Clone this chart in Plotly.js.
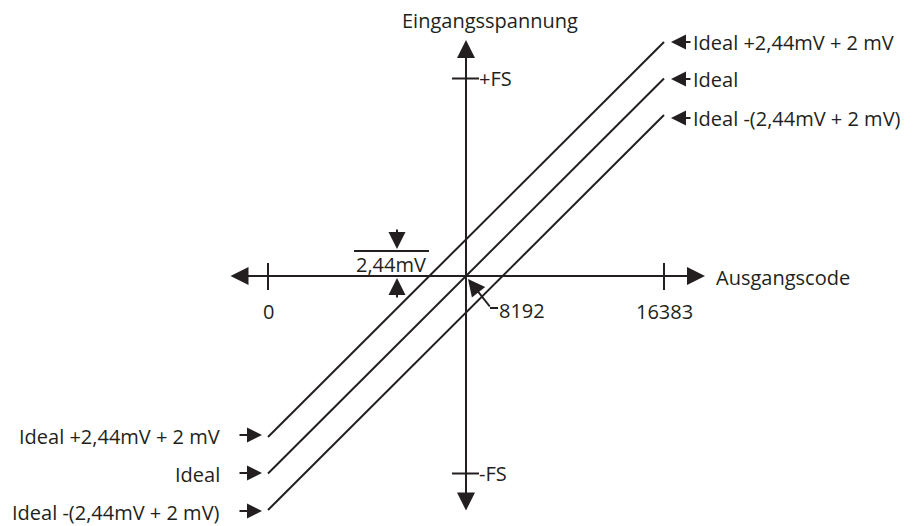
<!DOCTYPE html>
<html>
<head>
<meta charset="utf-8">
<script src="https://cdn.plot.ly/plotly-3.0.1.min.js"></script>
<style>html,body{margin:0;padding:0;background:#fff;}#chart{width:917px;height:526px;}</style>
</head>
<body>
<div id="chart"></div>
<script>
// ---- data ----
const codes = [0, 16383];                 // Ausgangscode endpoints
const idealFS = [-1, 1];                  // Ideal transfer line (in FS units)
const upperFS = [-0.815, 1.185];          // Ideal +2,44mV + 2 mV
const lowerFS = [-1.185, 0.815];          // Ideal -(2,44mV + 2 mV)
const seriesNames = ['Ideal +2,44mV + 2 mV', 'Ideal', 'Ideal -(2,44mV + 2 mV)'];
const xTickVals = [0, 16383];
const xTickText = ['0', '16383'];
const midCode = 8192;
const midText = '8192';
const yTickVals = [1, -1];
const yTickText = ['+FS', '-FS'];
const xTitle = 'Ausgangscode';
const yTitle = 'Eingangsspannung';
const lsbText = '2,44mV';

// ---- pixel helpers (layout only) ----
const W = 917, H = 526;
const X = px => (px - 268) / 396 * 16383;
const Y = py => (276 - py) / 197.5;
const INK = '#231f20';
const FONT = {family: 'Open Sans, sans-serif', size: 20, color: INK};

const lineStyle = {color: INK, width: 2};
const traces = [upperFS, idealFS, lowerFS].map((ys, i) => ({
  x: codes, y: ys, mode: 'lines', line: lineStyle, name: seriesNames[i], hoverinfo: 'skip'
}));

const ann = [];
const shapes = [];
function arrow(x, y, ax, ay, size) {
  ann.push({x: x, y: y, ax: ax, ay: ay, xref: 'x', yref: 'y', axref: 'x', ayref: 'y',
    text: '', showarrow: true, arrowhead: 2, arrowsize: size || 1.7, arrowwidth: 2, arrowcolor: INK, standoff: 0});
}
function label(text, x, y, xanchor) {
  ann.push({x: x, y: y, xref: 'x', yref: 'y', text: text, showarrow: false,
    xanchor: xanchor || 'center', yanchor: 'middle', font: FONT});
}

// axes with arrow heads at both ends
ann.push({x: X(705), y: 0, ax: X(229), ay: 0, xref: 'x', yref: 'y', axref: 'x', ayref: 'y',
  text: '', showarrow: true, arrowhead: 2, startarrowhead: 2, arrowside: 'end+start',
  arrowsize: 1.8, startarrowsize: 1.8, arrowwidth: 2, arrowcolor: INK, standoff: 0, startstandoff: 0});
ann.push({x: midCode, y: Y(40), ax: midCode, ay: Y(512), xref: 'x', yref: 'y', axref: 'x', ayref: 'y',
  text: '', showarrow: true, arrowhead: 2, startarrowhead: 2, arrowside: 'end+start',
  arrowsize: 1.8, startarrowsize: 1.8, arrowwidth: 2, arrowcolor: INK, standoff: 0, startstandoff: 0});

// ticks
xTickVals.forEach((v, i) => {
  shapes.push({type: 'line', xref: 'x', yref: 'y', x0: v, x1: v, y0: Y(263), y1: Y(290), line: lineStyle});
  label(xTickText[i], v, Y(311), 'center');
});
yTickVals.forEach((v, i) => {
  shapes.push({type: 'line', xref: 'x', yref: 'y', x0: X(452), x1: X(479), y0: v, y1: v, line: lineStyle});
  label(yTickText[i], X(477), v, 'left');
});

// axis titles
label(yTitle, X(490), Y(20), 'center');
label(xTitle, X(714), Y(277), 'left');

// 8192 pointer
arrow(X(468), Y(279), X(491), Y(308));
shapes.push({type: 'line', xref: 'x', yref: 'y', x0: X(490), x1: X(498), y0: Y(308), y1: Y(308), line: lineStyle});
label(midText, X(497), Y(310), 'left');

// 2,44mV LSB marker
label(lsbText, X(391), Y(264), 'center');
shapes.push({type: 'line', xref: 'x', yref: 'y', x0: X(354), x1: X(429), y0: Y(251), y1: Y(251), line: lineStyle});
arrow(X(397), Y(249), X(397), Y(228));
arrow(X(397), Y(278), X(397), Y(299));

// series labels on both sides
const rightY = [42, 79, 118];
const leftY = [435, 473, 511];
seriesNames.forEach((n, i) => {
  arrow(X(671), Y(rightY[i]), X(692), Y(rightY[i]), 1.5);
  label(n, X(691), Y(rightY[i]), 'left');
  arrow(X(262), Y(leftY[i]), X(238), Y(leftY[i]), 1.5);
  label(n, X(222), Y(leftY[i] + 1), 'right');
});

const layout = {
  width: W, height: H,
  margin: {l: 0, r: 0, t: 0, b: 0},
  paper_bgcolor: '#fff', plot_bgcolor: '#fff',
  showlegend: false,
  xaxis: {range: [X(0), X(W)], visible: false, fixedrange: true},
  yaxis: {range: [Y(H), Y(0)], visible: false, fixedrange: true},
  annotations: ann, shapes: shapes,
  font: FONT
};
Plotly.newPlot('chart', traces, layout, {displayModeBar: false, staticPlot: true});
</script>
</body>
</html>
